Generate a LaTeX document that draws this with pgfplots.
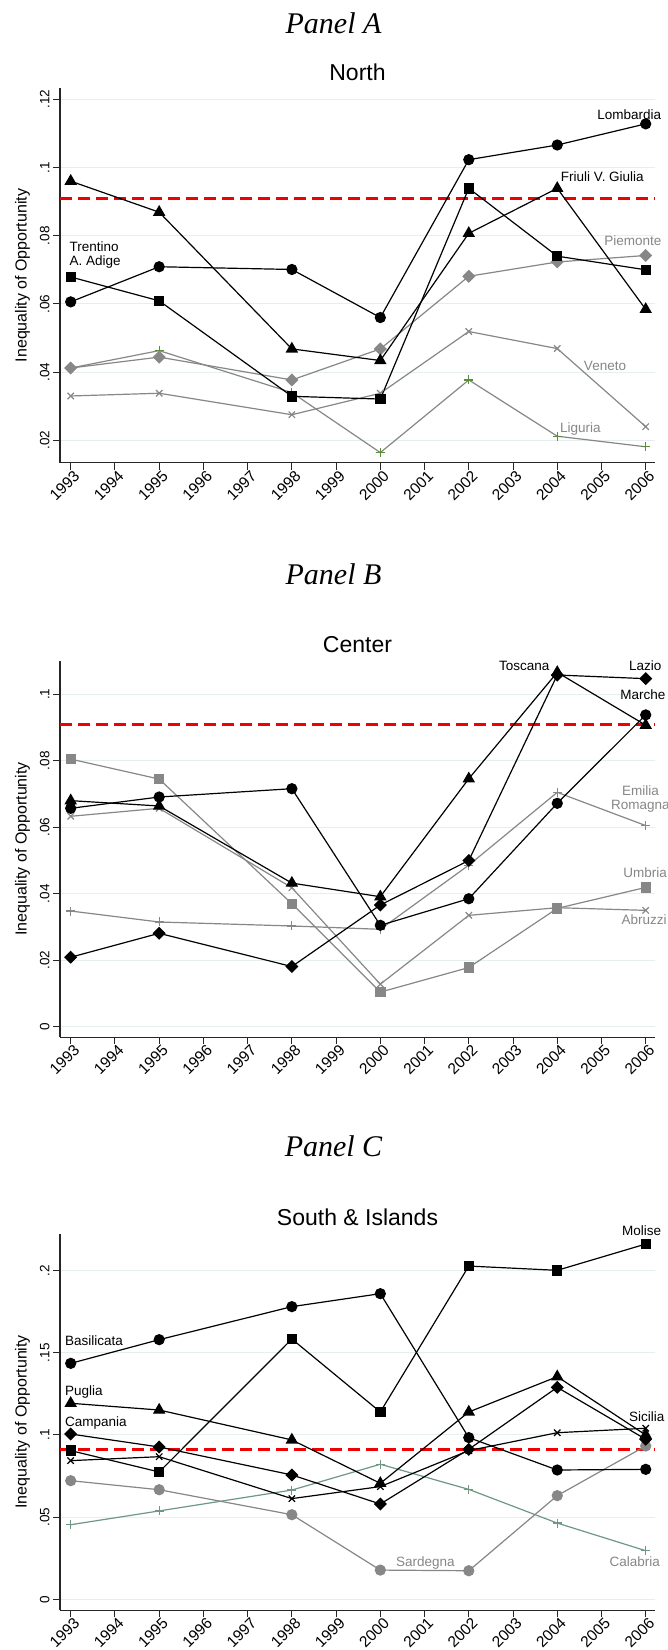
\documentclass[border=0pt]{standalone}
\usepackage{fontspec}
\setmainfont{Liberation Sans}
\newfontfamily\panelfont{Liberation Serif}
\usepackage{pgfplots}
\pgfplotsset{compat=1.18}
\definecolor{gridc}{RGB}{230,238,240}
\definecolor{ser}{RGB}{135,135,135}
\definecolor{ligr}{RGB}{90,140,60}
\definecolor{calc}{RGB}{110,152,132}
\definecolor{redl}{RGB}{240,0,0}
\newcommand{\lab}{\fontsize{13.5}{13.5}\selectfont}
\newcommand{\xtf}{\fontsize{15.5}{15.5}\selectfont}
\newcommand{\ytf}{\fontsize{13.5}{13.5}\selectfont}
\pgfplotsset{
  panel/.style={
    scale only axis, width=595pt,
    xmin=1992.758, xmax=2006.21,
    axis x line*=bottom, axis y line*=left,
    axis line style={black!85, line width=1pt},
    xtick={1993,1994,1995,1996,1997,1998,1999,2000,2001,2002,2003,2004,2005,2006},
    xticklabels={{\xtf 1993},{\xtf 1994},{\xtf 1995},{\xtf 1996},{\xtf 1997},{\xtf 1998},{\xtf 1999},{\xtf 2000},{\xtf 2001},{\xtf 2002},{\xtf 2003},{\xtf 2004},{\xtf 2005},{\xtf 2006}},
    tick align=outside, major tick length=7pt,
    every tick/.style={black!85, line width=1pt},
    x tick label style={rotate=45, anchor=north east, inner sep=1pt, xshift=3pt, font=\xtf},
    y tick label style={rotate=90, anchor=south, font=\ytf},
    /pgf/number format/assume math mode=true,
    ymajorgrids, major grid style={gridc, line width=1pt},
    ylabel={Inequality of Opportunity},
    ylabel style={at={(axis description cs:-0.063,0.5)}, anchor=center, font=\fontsize{16}{16}\selectfont},
    clip=false,
  },
  bcirc/.style={black, line width=1.2pt, mark=*, mark size=5pt, mark options={solid, fill=black}},
  btri/.style={black, line width=1.2pt, mark=triangle*, mark size=6pt, mark options={solid, fill=black}},
  bsq/.style={black, line width=1.2pt, mark=square*, mark size=4.6pt, mark options={solid, fill=black}},
  bdia/.style={black, line width=1.2pt, mark=square*, mark size=4pt, mark options={solid, fill=black, rotate=45}},
  bx/.style={black, line width=1.2pt, mark=x, mark size=4.5pt, mark options={solid}},
  gdia/.style={ser, line width=1.2pt, mark=square*, mark size=4pt, mark options={solid, fill=ser, rotate=45}},
  gsq/.style={ser, line width=1.2pt, mark=square*, mark size=4.6pt, mark options={solid, fill=ser}},
  gcirc/.style={ser, line width=1.2pt, mark=*, mark size=5pt, mark options={solid, fill=ser}},
  gx/.style={ser, line width=1.2pt, mark=x, mark size=4.5pt, mark options={solid}},
  gplus/.style={ser, line width=1.2pt, mark=+, mark size=4.5pt, mark options={solid}},
  refl/.style={redl, line width=3pt, dash pattern=on 12pt off 6pt},
}
\begin{document}
\begin{tikzpicture}
\useasboundingbox (0,0) rectangle (667pt,-1650pt);
\fill[white] (0,0) rectangle (667pt,-1650pt);

% ---------------- Panel A ----------------
\begin{axis}[panel, at={(60pt,-462.7pt)}, anchor=south west, height=374.4pt,
  ymin=0.01343, ymax=0.12323,
  ytick={0.02,0.04,0.06,0.08,0.1,0.12}, yticklabels={{\ytf .02},{\ytf .04},{\ytf .06},{\ytf .08},{\ytf .1},{\ytf .12}}]
\addplot[refl] coordinates {(1992.758,0.091) (2006.21,0.091)};
\addplot[ser, line width=1.2pt, mark=+, mark size=4.5pt, mark options={solid, ligr, line width=1.2pt}] coordinates {(1993,0.0412)(1995,0.0463)(1998,0.0340)(2000,0.0164)(2002,0.0377)(2004,0.0212)(2006,0.0181)};
\addplot[gx] coordinates {(1993,0.0330)(1995,0.0338)(1998,0.0275)(2000,0.0338)(2002,0.0519)(2004,0.0469)(2006,0.0240)};
\addplot[gdia] coordinates {(1993,0.0412)(1995,0.0444)(1998,0.0377)(2000,0.0468)(2002,0.0681)(2004,0.0723)(2006,0.0742)};
\addplot[bsq] coordinates {(1993,0.0679)(1995,0.0609)(1998,0.0329)(2000,0.0321)(2002,0.0939)(2004,0.0740)(2006,0.0700)};
\addplot[btri] coordinates {(1993,0.0960)(1995,0.0869)(1998,0.0468)(2000,0.0434)(2002,0.0807)(2004,0.0939)(2006,0.0584)};
\addplot[bcirc] coordinates {(1993,0.0606)(1995,0.0709)(1998,0.0701)(2000,0.0560)(2002,0.1023)(2004,0.1066)(2006,0.1128)};
\node[anchor=base west, inner sep=0pt, font=\lab] at (axis cs:2004.90,0.1141) {Lombardia};
\node[anchor=base west, inner sep=0pt, font=\lab] at (axis cs:2004.08,0.0958) {Friuli V. Giulia};
\node[anchor=base west, inner sep=0pt, font=\lab] at (axis cs:1992.97,0.0753) {Trentino};
\node[anchor=base west, inner sep=0pt, font=\lab] at (axis cs:1992.97,0.0714) {A. Adige};
\node[anchor=base west, inner sep=0pt, font=\lab, text=ser] at (axis cs:2005.06,0.0770) {Piemonte};
\node[anchor=base west, inner sep=0pt, font=\lab, text=ser] at (axis cs:2004.60,0.0406) {Veneto};
\node[anchor=base west, inner sep=0pt, font=\lab, text=ser] at (axis cs:2004.06,0.0224) {Liguria};
\end{axis}
\node[anchor=base, inner sep=0pt, font=\panelfont\itshape\fontsize{30}{30}\selectfont] at (333.5pt,-33.3pt) {Panel A};
\node[anchor=base, inner sep=0pt, font=\fontsize{23}{23}\selectfont] at (357.5pt,-80pt) {North};

% ---------------- Panel B ----------------
\begin{axis}[panel, at={(60pt,-1037pt)}, anchor=south west, height=376.3pt,
  ymin=-0.0031, ymax=0.1101,
  ytick={0,0.02,0.04,0.06,0.08,0.1}, yticklabels={{\ytf 0},{\ytf .02},{\ytf .04},{\ytf .06},{\ytf .08},{\ytf .1}}]
\addplot[refl] coordinates {(1992.758,0.091) (2006.21,0.091)};
\addplot[gplus] coordinates {(1993,0.0348)(1995,0.0315)(1998,0.0303)(2000,0.0293)(2002,0.0486)(2004,0.0705)(2006,0.0605)};
\addplot[gx] coordinates {(1993,0.0633)(1995,0.0657)(1998,0.0418)(2000,0.0128)(2002,0.0335)(2004,0.0358)(2006,0.0350)};
\addplot[gsq] coordinates {(1993,0.0805)(1995,0.0745)(1998,0.0370)(2000,0.0104)(2002,0.0178)(2004,0.0356)(2006,0.0419)};
\addplot[bcirc] coordinates {(1993,0.0657)(1995,0.0691)(1998,0.0716)(2000,0.0305)(2002,0.0385)(2004,0.0672)(2006,0.0938)};
\addplot[btri] coordinates {(1993,0.0680)(1995,0.0664)(1998,0.0432)(2000,0.0391)(2002,0.0746)(2004,0.1066)(2006,0.0907)};
\addplot[bdia] coordinates {(1993,0.0209)(1995,0.0281)(1998,0.0181)(2000,0.0366)(2002,0.0500)(2004,0.1058)(2006,0.1047)};
\node[anchor=base west, inner sep=0pt, font=\lab] at (axis cs:2002.68,0.1073) {Toscana};
\node[anchor=base west, inner sep=0pt, font=\lab] at (axis cs:2005.62,0.1073) {Lazio};
\node[anchor=base west, inner sep=0pt, font=\lab] at (axis cs:2005.42,0.0983) {Marche};
\node[anchor=base, inner sep=0pt, font=\lab, text=ser] at (axis cs:2005.88,0.0695) {Emilia};
\node[anchor=base, inner sep=0pt, font=\lab, text=ser] at (axis cs:2005.88,0.0652) {Romagna};
\node[anchor=base west, inner sep=0pt, font=\lab, text=ser] at (axis cs:2005.49,0.0449) {Umbria};
\node[anchor=base west, inner sep=0pt, font=\lab, text=ser] at (axis cs:2005.45,0.0306) {Abruzzi};
\end{axis}
\node[anchor=base, inner sep=0pt, font=\panelfont\itshape\fontsize{30}{30}\selectfont] at (333.5pt,-584pt) {Panel B};
\node[anchor=base, inner sep=0pt, font=\fontsize{23}{23}\selectfont] at (357.5pt,-652pt) {Center};

% ---------------- Panel C ----------------
\begin{axis}[panel, at={(60pt,-1610pt)}, anchor=south west, height=376.5pt,
  ymin=-0.0065, ymax=0.2226,
  ytick={0,0.05,0.1,0.15,0.2}, yticklabels={{\ytf 0},{\ytf .05},{\ytf .1},{\ytf .15},{\ytf .2}}]
\addplot[refl] coordinates {(1992.758,0.091) (2006.21,0.091)};
\addplot[calc, line width=1.2pt, mark=+, mark size=4.5pt, mark options={solid}] coordinates {(1993,0.0454)(1995,0.0538)(1998,0.0665)(2000,0.0822)(2002,0.0669)(2004,0.0464)(2006,0.0296)};
\addplot[gcirc] coordinates {(1993,0.0722)(1995,0.0667)(1998,0.0515)(2000,0.0178)(2002,0.0174)(2004,0.0631)(2006,0.0933)};
\addplot[bx] coordinates {(1993,0.0844)(1995,0.0868)(1998,0.0613)(2000,0.0686)(2002,0.0905)(2004,0.1014)(2006,0.1041)};
\addplot[bdia] coordinates {(1993,0.1006)(1995,0.0927)(1998,0.0757)(2000,0.0580)(2002,0.0913)(2004,0.1290)(2006,0.0974)};
\addplot[btri] coordinates {(1993,0.1193)(1995,0.1152)(1998,0.0970)(2000,0.0706)(2002,0.1140)(2004,0.1355)(2006,0.1000)};
\addplot[bcirc] coordinates {(1993,0.1436)(1995,0.1580)(1998,0.1781)(2000,0.1860)(2002,0.0984)(2004,0.0787)(2006,0.0791)};
\addplot[bsq] coordinates {(1993,0.0905)(1995,0.0775)(1998,0.1584)(2000,0.1140)(2002,0.2028)(2004,0.2002)(2006,0.2162)};
\node[anchor=base west, inner sep=0pt, font=\lab] at (axis cs:2005.46,0.2211) {Molise};
\node[anchor=base west, inner sep=0pt, font=\lab] at (axis cs:1992.87,0.1542) {Basilicata};
\node[anchor=base west, inner sep=0pt, font=\lab] at (axis cs:1992.87,0.1243) {Puglia};
\node[anchor=base west, inner sep=0pt, font=\lab] at (axis cs:1992.87,0.1054) {Campania};
\node[anchor=base west, inner sep=0pt, font=\lab] at (axis cs:2005.62,0.1085) {Sicilia};
\node[anchor=base west, inner sep=0pt, font=\lab, text=ser] at (axis cs:2000.35,0.0200) {Sardegna};
\node[anchor=base west, inner sep=0pt, font=\lab, text=ser] at (axis cs:2005.18,0.0198) {Calabria};
\end{axis}
\node[anchor=base, inner sep=0pt, font=\panelfont\itshape\fontsize{30}{30}\selectfont] at (333.5pt,-1156.7pt) {Panel C};
\node[anchor=base, inner sep=0pt, font=\fontsize{23}{23}\selectfont] at (357.5pt,-1225pt) {South \& Islands};
\end{tikzpicture}
\end{document}
